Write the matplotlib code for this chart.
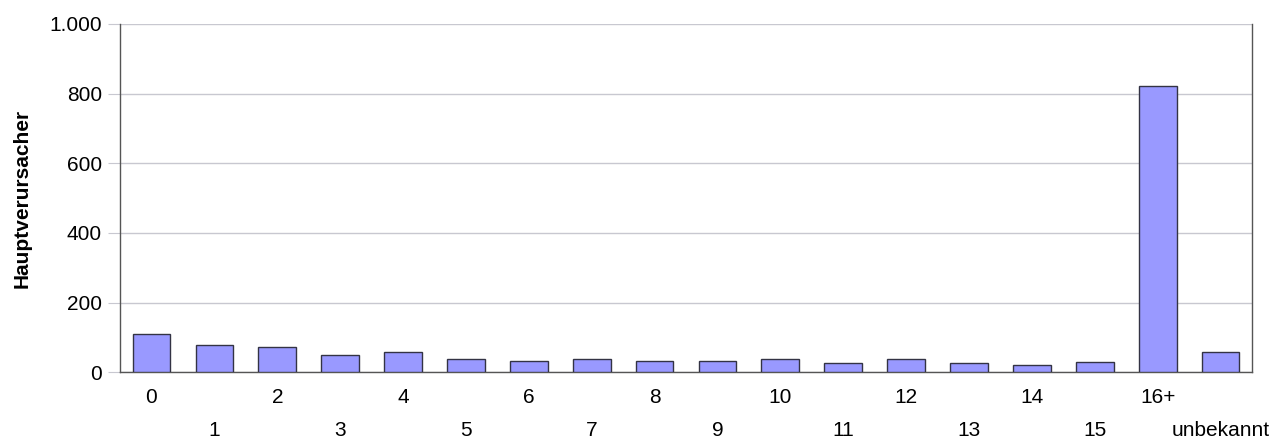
import matplotlib
matplotlib.use("Agg")
import matplotlib.pyplot as plt
from matplotlib.ticker import FuncFormatter

categories = ["0", "1", "2", "3", "4", "5", "6", "7", "8", "9", "10",
              "11", "12", "13", "14", "15", "16+", "unbekannt"]
values = [111, 77, 73, 49, 57, 37, 32, 37, 33, 31, 38, 28, 37, 26, 22, 30, 823, 59]
y_ticks = [0, 200, 400, 600, 800, 1000]
y_label = "Hauptverursacher"

plt.rcParams['font.family'] = ['Liberation Sans', 'DejaVu Sans']

fig = plt.figure(figsize=(12.73, 4.41), dpi=100)
ax = fig.add_axes([0.0943, 0.1558, 0.8892, 0.7898])

x = list(range(len(categories)))
ax.bar(x, values, width=0.6, color='#9999ff', edgecolor='#333344', linewidth=1, zorder=3)

ax.set_xlim(-0.5, len(categories) - 0.5)
ax.set_ylim(0, 1000)
ax.set_yticks(y_ticks)
ax.yaxis.set_major_formatter(FuncFormatter(lambda v, p: f"{int(v):,}".replace(",", ".")))
ax.grid(axis='y', color='#c8c8d0', linewidth=1, zorder=0)
ax.set_axisbelow(True)

ax.set_xticks(x)
ax.set_xticklabels(categories, fontsize=15)
ax.tick_params(axis='x', length=0)
ax.tick_params(axis='y', length=9, color='#c8c8d0', labelsize=15, pad=4)
for i, t in enumerate(ax.xaxis.get_major_ticks()):
    t.set_pad(11 if i % 2 == 0 else 35)

ax.set_ylabel(y_label, fontsize=15, fontweight='bold', labelpad=13)

for s in ['left', 'bottom', 'right']:
    ax.spines[s].set_color('#555555')
    ax.spines[s].set_linewidth(1)
ax.spines['top'].set_visible(False)

fig.savefig("out.png", dpi=100)
